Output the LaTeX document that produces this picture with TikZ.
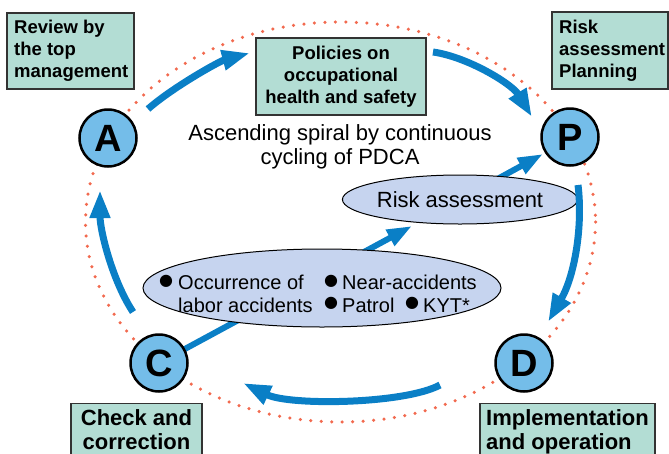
\documentclass[tikz,border=0pt]{standalone}
\usepackage{fontspec}
\setmainfont{Liberation Sans}
\newfontfamily\dejavu{DejaVu Sans}
\usetikzlibrary{arrows.meta,shapes.geometric}
\definecolor{arrowblue}{HTML}{0A7FC6}
\definecolor{circfill}{HTML}{74BDE9}
\definecolor{boxfill}{HTML}{B3DDD4}
\definecolor{boxline}{HTML}{333333}
\definecolor{ovalfill}{HTML}{C6D4EF}
\definecolor{dotred}{HTML}{F26A4F}
\tikzset{
  arr/.style={draw=arrowblue, line width=7pt, -{Triangle[length=28pt,width=19pt]}},
  arrthin/.style={draw=arrowblue, line width=6pt, -{Triangle[length=25pt,width=17pt]}},
  box/.style={draw=boxline, fill=boxfill, line width=1.2pt, inner sep=0pt},
  pdca/.style={circle, draw=black, line width=2.5pt, fill=circfill, minimum size=57pt, inner sep=0pt, font=\fontsize{38}{38}\selectfont\bfseries},
  oval/.style={ellipse, draw=black, line width=1pt, fill=ovalfill, inner sep=0pt},
  boxtxt/.style={font=\fontsize{18.5}{22}\selectfont\bfseries, inner sep=0pt},
  bigtxt/.style={font=\fontsize{22}{24}\selectfont\bfseries, inner sep=0pt},
  bodytxt/.style={font=\fontsize{22}{24}\selectfont, inner sep=0pt},
  listtxt/.style={font=\fontsize{20}{23}\selectfont, inner sep=0pt, anchor=base west},
  bul/.style={font=\dejavu\fontsize{16}{16}\selectfont, inner sep=0pt},
  dotline/.style={draw=dotred, line width=3.5pt, line cap=round, dash pattern=on 0pt off 10.5pt}
}
\begin{document}
\begin{tikzpicture}[x=1pt,y=-1pt]
\useasboundingbox (0,0) rectangle (669,453);
\clip (0,0) rectangle (669,453);
% dotted cycle
\draw[dotline] (340.5,222) ellipse [x radius=255, y radius=200];
% centre coordinates
\coordinate (Ac) at (108,138);
\coordinate (Pc) at (570,137);
\coordinate (Cc) at (159,363);
\coordinate (Dc) at (524,363);
\coordinate (riskc) at (460,199.5);
\coordinate (a6e) at (412,226);
\coordinate (a7e) at (543,154);
% spiral arrows behind ellipses
\draw[arrthin] (Cc) -- (a6e);
\draw[arrthin] (riskc) -- (a7e);
% ellipses
\node[oval, minimum width=358pt, minimum height=78pt] (acc) at (322,288) {};
\node[oval, minimum width=224pt, minimum height=49pt, font=\fontsize{22}{24}\selectfont] (risk) at (riskc) {Risk assessment};
% list in big ellipse
\node[bul] (b1) at (166,281.5) {●};
\node[bul] (b2) at (331,281.5) {●};
\node[bul] (b3) at (331,303.5) {●};
\node[bul] (b4) at (412,303.5) {●};
\node[listtxt] (t1) at (178,289) {Occurrence of};
\node[listtxt] (t2) at (342,289) {Near-accidents};
\node[listtxt] (t3) at (178,312) {labor accidents};
\node[listtxt] (t4) at (342,312) {Patrol};
\node[listtxt] (t5) at (423,312) {KYT*};
% cycle arrows
\coordinate (a1s) at (148,109); \coordinate (a1e) at (250,53);
\draw[arr] (a1s) .. controls (173,87) and (220,61) .. (a1e);
\coordinate (a2s) at (433,52); \coordinate (a2e) at (532,117);
\draw[arr] (a2s) .. controls (468,57) and (512,84) .. (a2e);
\coordinate (a3s) at (578,185); \coordinate (a3e) at (548,322);
\draw[arr] (a3s) .. controls (583,225) and (575,275) .. (a3e);
\coordinate (a4s) at (440,385); \coordinate (a4e) at (243,383);
\draw[arr] (a4s) .. controls (405,404) and (290,406) .. (a4e);
\coordinate (a5s) at (133,312); \coordinate (a5e) at (100,190);
\draw[arr] (a5s) .. controls (112,280) and (100,230) .. (a5e);
% PDCA circles
\node[pdca] (A) at (Ac) {A};
\node[pdca] (P) at (Pc) {P};
\node[pdca] (C) at (Cc) {C};
\node[pdca] (D) at (Dc) {D};
% boxes
\node[box, minimum width=127pt, minimum height=76pt] (revbox) at (70.5,51) {};
\node[boxtxt, anchor=north west, align=left] (revtxt) at (14,20) {Review by\\the top\\management};
\node[box, minimum width=116pt, minimum height=77pt] (rskbox) at (610,50.5) {};
\node[boxtxt, anchor=north west, align=left] (rsktxt) at (559,20) {Risk\\assessment\\Planning};
\node[box, minimum width=170pt, minimum height=77pt] (polbox) at (341,76.5) {};
\node[boxtxt, anchor=north, align=center] (poltxt) at (341,46) {Policies on\\occupational\\health and safety};
\node[box, minimum width=131pt, minimum height=70pt, anchor=north] (chkbox) at (136.5,403) {};
\node[bigtxt, anchor=north, align=center] (chktxt) at (136.5,409) {Check and\\correction};
\node[box, minimum width=175pt, minimum height=70pt, anchor=north] (impbox) at (567.5,403) {};
\node[bigtxt, anchor=north west, align=left] (imptxt) at (486,409) {Implementation\\and operation};
% centre caption
\node[bodytxt, anchor=north, align=center] (cap) at (340,124) {Ascending spiral by continuous\\cycling of PDCA};
\end{tikzpicture}
\end{document}
